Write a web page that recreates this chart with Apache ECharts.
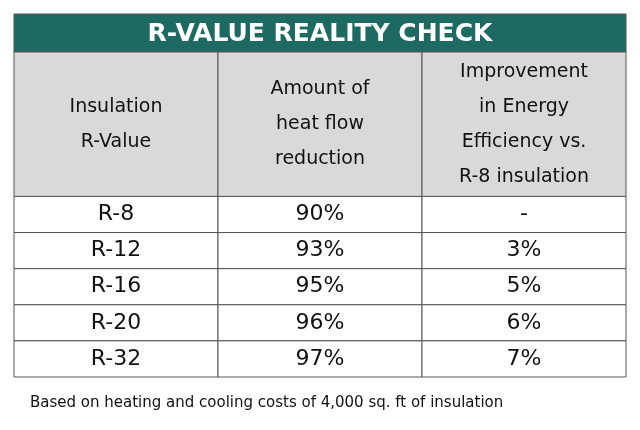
<!DOCTYPE html>
<html><head><meta charset="utf-8">
<script src="https://cdn.jsdelivr.net/npm/echarts@6/dist/echarts.min.js"></script>
<style>html,body{margin:0;padding:0;background:#fff}#c{width:640px;height:430px}</style>
</head><body><div id="c"></div>
<script>
const titleText = 'R-VALUE REALITY CHECK';
const headers = ['Insulation\nR-Value', 'Amount of\nheat flow\nreduction', 'Improvement\nin Energy\nEfficiency vs.\nR-8 insulation'];
const rValues = ['R-8', 'R-12', 'R-16', 'R-20', 'R-32'];
const reduction = ['90%', '93%', '95%', '96%', '97%'];
const improvement = ['-', '3%', '5%', '6%', '7%'];
const footnote = 'Based on heating and cooling costs of 4,000 sq. ft of insulation';

const columns = ['c0', 'c1', 'c2'];
const rowCats = ['h0', 'h1', 'h2', 'h3'].concat(rValues);
const cells = [];
headers.forEach((h, i) => cells.push({ value: [i, 0], text: h, header: true }));
[rValues, reduction, improvement].forEach((col, ci) => col.forEach((t, ri) => cells.push({ value: [ci, ri + 4], text: t, header: false })));

const font = '"DejaVu Sans", "Noto Sans", sans-serif';
const chart = echarts.init(document.getElementById('c'));
chart.setOption({
  animation: false,
  grid: { left: 14, right: 14, top: 52, bottom: 53 },
  xAxis: { type: 'category', data: columns, show: false },
  yAxis: { type: 'category', data: rowCats, inverse: true, show: false },
  graphic: [
    { type: 'rect', shape: { x: 14, y: 14, width: 612, height: 38 }, style: { fill: '#1d6a62', stroke: '#555', lineWidth: 1 } },
    { type: 'text', x: 320, y: 34, style: { text: titleText, fill: '#fff', font: 'bold 25px ' + font, align: 'center', verticalAlign: 'middle' } },
    { type: 'text', x: 30, y: 403, style: { text: footnote, fill: '#111', font: '15px ' + font, verticalAlign: 'middle' } }
  ],
  series: [{
    type: 'custom',
    data: cells,
    renderItem: function (params, api) {
      const d = cells[params.dataIndex];
      const c = api.coord([api.value(0), api.value(1)]);
      const s = api.size([1, 1]);
      const h = d.header ? s[1] * 4 : s[1];
      const x = c[0] - s[0] / 2, y = c[1] - s[1] / 2;
      return {
        type: 'group',
        children: [
          { type: 'rect', shape: { x: x, y: y, width: s[0], height: h }, style: { fill: d.header ? '#d9d9d9' : '#fff', stroke: '#555', lineWidth: 1 } },
          { type: 'text', style: { x: x + s[0] / 2, y: y + h / 2, text: d.text, fill: '#111', font: (d.header ? '19px ' : '22px ') + font, align: 'center', verticalAlign: 'middle', lineHeight: d.header ? 35 : 26 } }
        ]
      };
    }
  }]
});
</script></body></html>
